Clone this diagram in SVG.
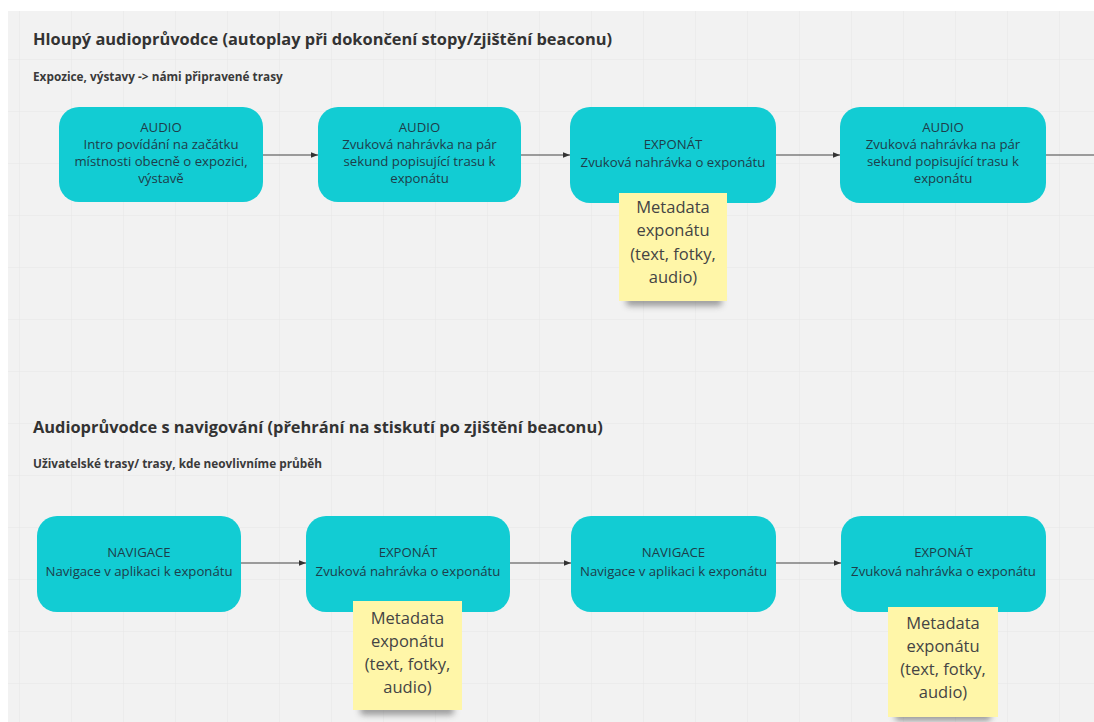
<svg xmlns="http://www.w3.org/2000/svg" width="1094" height="722" viewBox="0 0 1094 722">
<defs>
<pattern id="grid" x="19" y="7" width="52" height="52" patternUnits="userSpaceOnUse">
<path d="M0 0V52M0 0H52" fill="none" stroke="#e5e5e5" stroke-width="1"/>
</pattern>
<marker id="arr" viewBox="0 0 10 10" refX="10" refY="5" markerWidth="7" markerHeight="7" orient="auto" markerUnits="userSpaceOnUse">
<path d="M0 1L10 5L0 9Z" fill="#333"/>
</marker>
<filter id="shadow" x="-30%" y="-100%" width="160%" height="300%">
<feGaussianBlur stdDeviation="3"/>
</filter>
</defs>
<style>
.title{font-family:"Open Sans","Liberation Sans",sans-serif;font-weight:700;font-size:16.4px;fill:#333}
.sub{font-family:"Open Sans","Liberation Sans",sans-serif;font-weight:700;font-size:11.8px;fill:#3a3a3a}
.node rect{fill:#12ccd3}
.node text{font-family:"Open Sans","Liberation Sans",sans-serif;font-size:13.2px;fill:#1e3d4a;text-anchor:middle}
.note rect.n{fill:#fff6a8}
.note rect.s{fill:#555;opacity:0.55;filter:url(#shadow)}
.note text{font-family:"Open Sans","Liberation Sans",sans-serif;font-size:16.5px;fill:#444;text-anchor:middle}
.conn{stroke:#444;stroke-width:1;fill:none}
</style>
<rect x="0" y="0" width="1094" height="722" fill="#ffffff"/>
<rect x="8" y="11" width="1086" height="711" fill="#f2f2f2"/>
<rect x="8" y="11" width="1086" height="711" fill="url(#grid)"/>

<g id="headings">
<text class="title" x="33" y="45">Hloupý audioprůvodce (autoplay při dokončení stopy/zjištění beaconu)</text>
<text class="sub" x="33" y="81">Expozice, výstavy -&gt; námi připravené trasy</text>
<text class="title" x="33" y="433">Audioprůvodce s navigování (přehrání na stiskutí po zjištění beaconu)</text>
<text class="sub" x="33" y="468">Uživatelské trasy/ trasy, kde neovlivníme průběh</text>
</g>

<g id="connectors">
<line class="conn" x1="263" y1="155" x2="318" y2="155" marker-end="url(#arr)"/>
<line class="conn" x1="521" y1="155" x2="570" y2="155" marker-end="url(#arr)"/>
<line class="conn" x1="776" y1="155" x2="840" y2="155" marker-end="url(#arr)"/>
<line class="conn" x1="1046" y1="155" x2="1094" y2="155"/>
<line class="conn" x1="241" y1="563" x2="306" y2="563" marker-end="url(#arr)"/>
<line class="conn" x1="510" y1="563" x2="571" y2="563" marker-end="url(#arr)"/>
<line class="conn" x1="776" y1="563" x2="841" y2="563" marker-end="url(#arr)"/>
</g>

<g id="n1" class="node">
<rect x="59" y="107" width="204" height="95" rx="20"/>
<text x="161" y="132">AUDIO</text>
<text x="161" y="149">Intro povídání na začátku</text>
<text x="161" y="166">místnosti obecně o expozici,</text>
<text x="161" y="183">výstavě</text>
</g>
<g id="n2" class="node">
<rect x="318" y="107" width="203" height="95" rx="20"/>
<text x="419.5" y="132">AUDIO</text>
<text x="419.5" y="149">Zvuková nahrávka na pár</text>
<text x="419.5" y="166">sekund popisující trasu k</text>
<text x="419.5" y="183">exponátu</text>
</g>
<g id="n3" class="node">
<rect x="570" y="107" width="206" height="96" rx="20"/>
<text x="673" y="149">EXPONÁT</text>
<text x="673" y="167">Zvuková nahrávka o exponátu</text>
</g>
<g id="n4" class="node">
<rect x="840" y="107" width="206" height="96" rx="20"/>
<text x="943" y="132">AUDIO</text>
<text x="943" y="149">Zvuková nahrávka na pár</text>
<text x="943" y="166">sekund popisující trasu k</text>
<text x="943" y="183">exponátu</text>
</g>
<g id="note1" class="note">
<rect class="s" x="626" y="296" width="96" height="10" rx="4"/>
<rect class="n" x="619" y="193" width="108" height="108"/>
<text x="673" y="213">Metadata</text>
<text x="673" y="236">exponátu</text>
<text x="673" y="260">(text, fotky,</text>
<text x="673" y="283">audio)</text>
</g>

<g id="n5" class="node">
<rect x="37" y="516" width="204" height="96" rx="20"/>
<text x="139" y="557">NAVIGACE</text>
<text x="139" y="576">Navigace v aplikaci k exponátu</text>
</g>
<g id="n6" class="node">
<rect x="306" y="516" width="204" height="96" rx="20"/>
<text x="408" y="557">EXPONÁT</text>
<text x="408" y="576">Zvuková nahrávka o exponátu</text>
</g>
<g id="n7" class="node">
<rect x="571" y="516" width="205" height="96" rx="20"/>
<text x="673.5" y="557">NAVIGACE</text>
<text x="673.5" y="576">Navigace v aplikaci k exponátu</text>
</g>
<g id="n8" class="node">
<rect x="841" y="516" width="205" height="96" rx="20"/>
<text x="943.5" y="557">EXPONÁT</text>
<text x="943.5" y="576">Zvuková nahrávka o exponátu</text>
</g>
<g id="note2" class="note">
<rect class="s" x="360" y="705" width="94" height="10" rx="4"/>
<rect class="n" x="353" y="601" width="109" height="109"/>
<text x="407.5" y="624">Metadata</text>
<text x="407.5" y="647">exponátu</text>
<text x="407.5" y="670">(text, fotky,</text>
<text x="407.5" y="693">audio)</text>
</g>
<g id="note3" class="note">
<rect class="s" x="895" y="711" width="96" height="10" rx="4"/>
<rect class="n" x="888" y="607" width="110" height="110"/>
<text x="943" y="629">Metadata</text>
<text x="943" y="652">exponátu</text>
<text x="943" y="675">(text, fotky,</text>
<text x="943" y="698">audio)</text>
</g>
</svg>
